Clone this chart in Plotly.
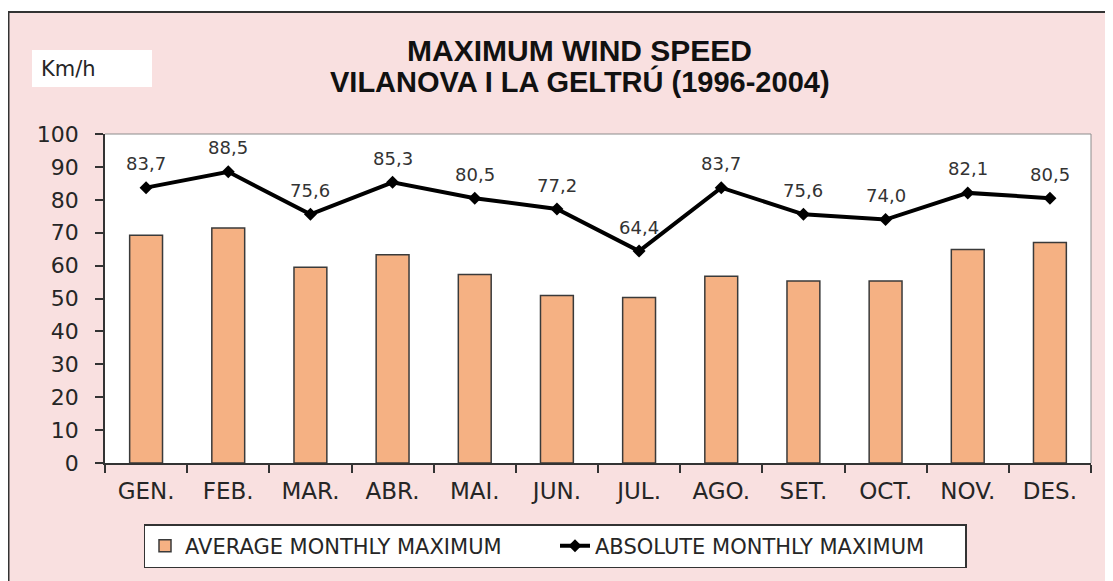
import plotly.graph_objects as go

months = ["GEN.", "FEB.", "MAR.", "ABR.", "MAI.", "JUN.", "JUL.", "AGO.", "SET.", "OCT.", "NOV.", "DES."]
avg_max = [69.2, 71.4, 59.5, 63.3, 57.3, 50.9, 50.3, 56.8, 55.3, 55.3, 64.9, 67.0]
abs_max = [83.7, 88.5, 75.6, 85.3, 80.5, 77.2, 64.4, 83.7, 75.6, 74.0, 82.1, 80.5]
y_ticks = list(range(0, 101, 10))

W, H = 1113, 581
OFF = 8  # page body margin: figure pixel = screen pixel - OFF
L, T = 105 - OFF, 134 - OFF
R = W - (1091 - OFF)
B = H - (463 - OFF)
PW, PH = W - L - R, H - T - B

def px_x(x):
    return (x - OFF - L) / PW

def px_y(y):
    return (H - B - (y - OFF)) / PH

PINK = "#F9E0E0"
FONT = "DejaVu Sans"
TFONT = "Liberation Sans"
DARK = "#262626"
xrange = [-0.5, len(months) - 0.5]

fig = go.Figure()
fig.add_trace(go.Bar(
    x=months, y=avg_max, name="AVERAGE MONTHLY MAXIMUM",
    marker=dict(color="#F5B183", line=dict(color="#3a3a3a", width=1.5)),
    width=0.4,
))
fig.add_trace(go.Scatter(
    x=months, y=abs_max, name="ABSOLUTE MONTHLY MAXIMUM",
    mode="lines+markers",
    line=dict(color="black", width=4),
    marker=dict(symbol="diamond", size=10, color="black"),
))

shapes = [
    dict(type="rect", xref="paper", yref="paper", x0=px_x(-20), x1=px_x(1140), y0=px_y(12), y1=px_y(-20),
         fillcolor="white", line=dict(width=0), layer="above"),
    dict(type="line", xref="paper", yref="paper", x0=px_x(8), x1=px_x(1140), y0=px_y(12), y1=px_y(12),
         line=dict(color="#333333", width=2), layer="above"),
    dict(type="line", xref="paper", yref="paper", x0=px_x(8.5), x1=px_x(8.5), y0=px_y(12), y1=px_y(620),
         line=dict(color="#333333", width=2), layer="above"),
    dict(type="rect", xref="paper", yref="paper", x0=px_x(32), x1=px_x(152), y0=px_y(87), y1=px_y(50),
         fillcolor="white", line=dict(width=0), layer="above"),
    dict(type="line", xref="paper", yref="paper", x0=0, x1=1, y0=1, y1=1,
         line=dict(color="#8c8c8c", width=1)),
    dict(type="line", xref="paper", yref="paper", x0=1, x1=1, y0=0, y1=1,
         line=dict(color="#8c8c8c", width=1)),
]

annotations = [
    dict(text="Km/h", xref="paper", yref="paper", x=px_x(39), y=px_y(69), xanchor="left", yanchor="middle",
         showarrow=False, font=dict(family=FONT, size=21, color=DARK)),
    dict(text="<b>MAXIMUM WIND SPEED</b>", xref="paper", yref="paper", x=px_x(579), y=px_y(51),
         xanchor="center", yanchor="middle", showarrow=False,
         font=dict(family=TFONT, size=30, color="#111111")),
    dict(text="<b>VILANOVA I LA GELTRÚ (1996-2004)</b>", xref="paper", yref="paper", x=px_x(580), y=px_y(81),
         xanchor="center", yanchor="middle", showarrow=False,
         font=dict(family=TFONT, size=29, color="#111111")),
]
for m, v in zip(months, abs_max):
    annotations.append(dict(
        text=f"{v:.1f}".replace(".", ","), x=m, y=v, xref="x", yref="y",
        yshift=24, showarrow=False, xanchor="center", yanchor="middle",
        font=dict(family=FONT, size=18, color="#333333"),
    ))

fig.update_layout(
    width=W, height=H,
    margin=dict(l=L, r=R, t=T, b=B),
    paper_bgcolor=PINK, plot_bgcolor="white",
    font=dict(family=FONT, color=DARK),
    showlegend=True,
    legend=dict(orientation="h", x=px_x(555), xanchor="center", y=px_y(546), yanchor="middle",
                bgcolor="white", bordercolor="#333333", borderwidth=1.5,
                font=dict(family=FONT, size=21, color=DARK), traceorder="normal",
                entrywidth=365, entrywidthmode="pixels"),
    xaxis=dict(type="category", range=xrange, showline=True, linecolor="#333333", linewidth=1.5,
               ticks="outside", ticklen=8, tickwidth=1.5, tickcolor="#333333", tickson="boundaries",
               tickfont=dict(family=FONT, size=23, color=DARK), showgrid=False,
               ticklabelstandoff=7),
    yaxis=dict(range=[0, 100], tickvals=y_ticks, showline=True, linecolor="#333333", linewidth=1.5,
               ticks="outside", ticklen=8, tickwidth=1.5, tickcolor="#333333",
               tickfont=dict(family=FONT, size=22, color=DARK), showgrid=False, zeroline=False,
               ticklabelstandoff=12),
    xaxis2=dict(overlaying="x", anchor="y", range=xrange,
                tickvals=[i - 0.5 for i in range(len(months) + 1)], ticks="inside", ticklen=6,
                tickwidth=1.5, tickcolor="#333333", showticklabels=False, showgrid=False,
                showline=False, zeroline=False, side="bottom"),
    yaxis2=dict(overlaying="y", anchor="x", range=[0, 100], tickvals=y_ticks, ticks="inside",
                ticklen=8, tickwidth=1.5, tickcolor="#333333", showticklabels=False,
                showgrid=False, showline=False, zeroline=False, side="left"),
    shapes=shapes,
    annotations=annotations,
    bargap=0.6,
)

fig.write_html("out.html")
